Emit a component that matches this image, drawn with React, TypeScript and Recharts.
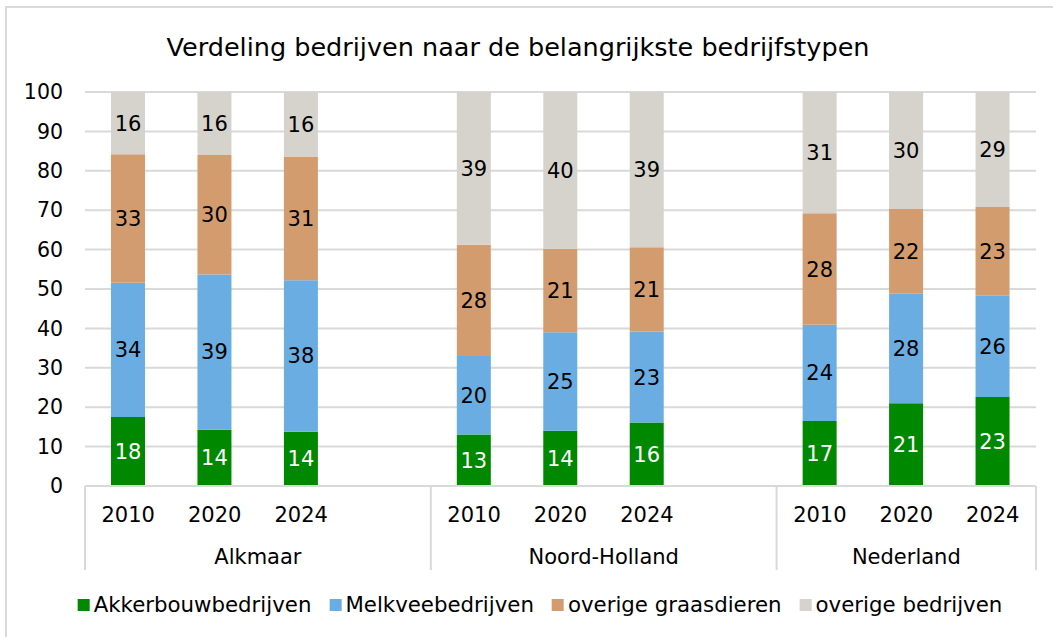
import React from 'react';
import { BarChart, Bar, XAxis, YAxis, CartesianGrid, LabelList } from 'recharts';

const groups = ['Alkmaar', 'Noord-Holland', 'Nederland'];
const years = ['2010', '2020', '2024'];

// per group, per year (group-major order)
const akkerbouwbedrijven = [17.5, 14.3, 13.8, 13.1, 14.0, 16.1, 16.5, 21.0, 22.6];
const melkveebedrijven = [34.1, 39.4, 38.4, 19.9, 25.0, 23.1, 24.4, 27.8, 25.7];
const overigeGraasdieren = [32.6, 30.3, 31.4, 28.2, 21.2, 21.4, 28.3, 21.5, 22.5];
const overigeBedrijven = [15.8, 16.0, 16.4, 38.8, 39.8, 39.4, 30.8, 29.7, 29.2];

const yTicks = [0, 10, 20, 30, 40, 50, 60, 70, 80, 90, 100];

const series = [
  { key: 'akker', name: 'Akkerbouwbedrijven', values: akkerbouwbedrijven, color: '#008800', label: '#ffffff' },
  { key: 'melk', name: 'Melkveebedrijven', values: melkveebedrijven, color: '#6aade2', label: '#000000' },
  { key: 'gras', name: 'overige graasdieren', values: overigeGraasdieren, color: '#d39c6f', label: '#000000' },
  { key: 'overig', name: 'overige bedrijven', values: overigeBedrijven, color: '#d5d3cb', label: '#000000' },
];

type Row = { key: string; year: string; group: string; first: boolean; last: boolean; slots: number; [k: string]: any };

const rows: Row[] = [];
groups.forEach((g, gi) => {
  const slots = years.length + (gi < groups.length - 1 ? 1 : 0);
  years.forEach((y, yi) => {
    const row: Row = { key: `${g}-${y}`, year: y, group: g, first: yi === 0, last: false, slots };
    series.forEach((s) => {
      row[s.key] = s.values[gi * years.length + yi];
    });
    rows.push(row);
  });
  if (gi < groups.length - 1) {
    rows.push({ key: `gap-${gi}`, year: '', group: '', first: false, last: false, slots: 0 });
  }
});
rows[rows.length - 1].last = true;

const FONT = '"DejaVu Sans", Verdana, sans-serif';
const GRID = '#d9d9d9';
const W = 1053;
const H = 637;
const PLOT_LEFT = 85;
const PLOT_RIGHT = 1036;
const step = (PLOT_RIGHT - PLOT_LEFT) / rows.length;
const FS = 21;

const CategoryTick = (props: any) => {
  const { x, y, payload } = props;
  const row = rows.find((r) => r.key === payload.value);
  if (!row || !row.year) return null;
  const left = x - step / 2;
  return (
    <g>
      <text x={x} y={y + 29} textAnchor="middle" dominantBaseline="central" fontSize={FS} fill="#000" fontFamily={FONT}>
        {row.year}
      </text>
      {row.first && (
        <>
          <line x1={left} x2={left} y1={y} y2={y + 84} stroke={GRID} strokeWidth={2} />
          <text x={left + (row.slots * step) / 2} y={y + 71} textAnchor="middle" dominantBaseline="central" fontSize={FS} fill="#000" fontFamily={FONT}>
            {row.group}
          </text>
        </>
      )}
      {row.last && <line x1={x + step / 2} x2={x + step / 2} y1={y} y2={y + 84} stroke={GRID} strokeWidth={2} />}
    </g>
  );
};

const App: React.FC = () => {
  return (
    <div style={{ position: 'absolute', top: 0, left: 0, width: W, height: H, background: '#fff', fontFamily: FONT, overflow: 'hidden' }}>
      <div style={{ position: 'absolute', top: 6, left: 5, width: W + 20, height: H + 20, borderTop: `2px solid ${GRID}`, borderLeft: `2px solid ${GRID}` }} />
      <div style={{ position: 'absolute', top: 30, left: 518, transform: 'translateX(-50%)', whiteSpace: 'nowrap', fontSize: 25.5, lineHeight: '34px', color: '#000' }}>
        Verdeling bedrijven naar de belangrijkste bedrijfstypen
      </div>
      <div style={{ position: 'absolute', top: 0, left: 0 }}>
        <BarChart width={W} height={H} data={rows} margin={{ top: 92, right: W - PLOT_RIGHT, bottom: 61, left: 25 }} barSize={34}>
          <CartesianGrid vertical={false} stroke={GRID} strokeWidth={2} />
          <XAxis
            dataKey="key"
            height={90}
            interval={0}
            tickLine={false}
            tickSize={0}
            tickMargin={0}
            axisLine={{ stroke: GRID, strokeWidth: 2 }}
            tick={<CategoryTick />}
          />
          <YAxis
            width={60}
            domain={[0, 100]}
            ticks={yTicks}
            interval={0}
            axisLine={false}
            tickLine={false}
            tickSize={0}
            tickMargin={22}
            tick={{ fontSize: 20.5, fill: '#000', fontFamily: FONT }}
          />
          {series.map((s) => (
            <Bar key={s.key} dataKey={s.key} name={s.name} stackId="a" fill={s.color} isAnimationActive={false}>
              <LabelList
                dataKey={s.key}
                position="center"
                formatter={(v: any) => (typeof v === 'number' ? Math.round(v) : '')}
                fill={s.label}
                fontSize={FS}
                fontFamily={FONT}
              />
            </Bar>
          ))}
        </BarChart>
      </div>
      <div style={{ position: 'absolute', top: 591, left: 540, transform: 'translateX(-50%)', display: 'flex', alignItems: 'center', whiteSpace: 'nowrap', fontSize: 21.3, lineHeight: '28px', color: '#000' }}>
        {series.map((s, i) => (
          <div key={s.key} style={{ display: 'flex', alignItems: 'center', marginLeft: i === 0 ? 0 : 18 }}>
            <span style={{ display: 'inline-block', width: 12, height: 12, background: s.color, marginRight: 4 }} />
            <span>{s.name}</span>
          </div>
        ))}
      </div>
    </div>
  );
};

export default App;
